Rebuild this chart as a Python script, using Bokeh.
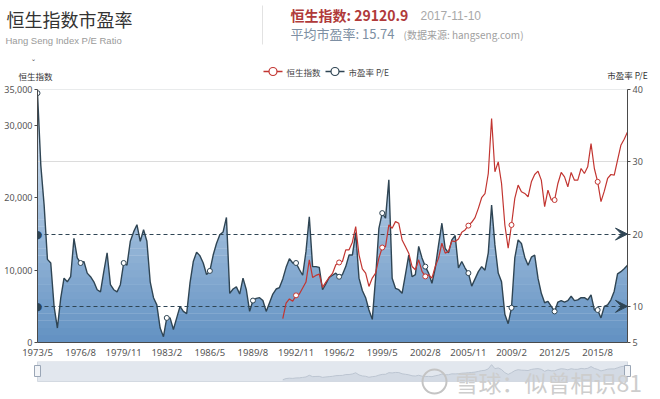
import numpy as np
from bokeh.plotting import figure
from bokeh.models import (Range1d, LinearAxis, FixedTicker, NumeralTickFormatter,
                          Label, Arrow, VeeHead)
from bokeh.layouts import column
from bokeh.embed import file_html
from bokeh.resources import INLINE

# ---------------- data (quarterly samples) ----------------
months_per_step = 3          # one value every 3 months, starting 1973/5
pe_ratio = [
    39.5, 29.5, 24.0, 16.5, 16.0, 10.0, 7.0, 11.1, 13.9, 13.4,
    14.1, 19.4, 16.7, 16.0, 16.2, 14.6, 14.1, 13.4, 12.3, 12.0,
    14.8, 17.4, 13.0, 12.3, 12.0, 13.0, 16.0, 15.7, 19.0, 20.3,
    21.3, 19.0, 20.6, 19.0, 13.4, 11.2, 10.2, 7.0, 5.8, 8.4,
    8.4, 6.8, 8.4, 10.0, 9.3, 9.0,
    13.2, 16.2, 17.5, 17.0, 16.0, 14.4, 14.9, 17.1, 18.7, 19.9,
    20.3, 22.3, 11.8, 12.4, 12.7, 11.7, 13.9, 12.3, 9.3, 10.8,
    11.1, 11.2, 10.8, 9.3, 10.5, 11.7, 12.4, 12.6, 13.8, 15.4,
    16.6, 16.0, 16.0, 15.1, 14.3, 17.6, 22.4, 15.5, 15.5, 15.4,
    12.3, 13.1, 14.0, 14.3, 14.6,
    14.1, 14.4, 15.5, 17.1, 17.1, 20.2, 13.9, 12.2, 11.2, 9.5,
    8.2, 13.9, 20.8, 22.9, 22.2, 27.5, 13.9, 12.5, 12.3, 11.8,
    14.4, 17.1, 14.1, 14.4, 18.3, 16.7, 15.5, 14.6, 13.2, 15.3,
    18.5, 21.5, 18.0, 17.4, 19.2, 19.8, 15.3, 16.2, 15.3, 14.6,
    12.8, 13.8, 14.8, 15.5, 15.0,
    17.4, 24.0, 18.5, 14.6, 13.4, 8.9, 7.6, 9.8, 16.7, 19.2,
    18.7, 16.8, 15.7, 16.8, 17.1, 13.9, 11.8, 10.5, 10.7, 10.0,
    9.3, 10.6, 10.8, 10.6, 10.8, 11.4, 10.8, 10.9, 11.2, 11.2,
    10.9, 11.6, 9.5, 9.5, 8.4, 10.0, 10.2, 10.9, 12.1, 14.5,
    14.8, 15.2, 15.7,
]
hsi_first_step = 74          # Hang Seng index series starts at step 74 (1991/11)
hang_seng_index = [
    3300, 5460, 6020, 5700, 6520, 6700, 7530, 8360, 11440, 9000,
    9280, 9460, 7620, 8360, 9000, 9550, 10750,
    11070, 11210, 12820, 12820, 13870, 16030, 12130, 10200, 9600, 7760,
    8910, 9600, 11670, 13140, 13270, 16260, 15800, 16720, 16490, 14190,
    13270, 12360, 10520, 10060, 11440, 9830, 9140, 9370, 8910, 10520,
    11670, 13730, 12360, 12590, 14060, 13960, 14330, 15250, 15570, 16170,
    16630, 17270, 18560, 20030, 20580,
    23380, 31000, 23610, 24990, 22000, 16260, 13040, 16260, 19930, 21770,
    20850, 20620, 20160, 22230, 23240, 23700, 22460, 18790, 21080, 19710,
    19710, 22000, 23520, 22920, 21540, 23520, 22460, 22460, 24070, 23380,
    24300, 27510, 24070, 22230, 19480, 20940, 22690, 23240, 23150, 25220,
    27280, 28110, 29120,
]
last_month = 534
tick_months = [0, 39, 78, 117, 156, 195, 234, 273, 312, 351, 390, 429, 468, 507]
tick_labels = ["1973/5", "1976/8", "1979/11", "1983/2", "1986/5", "1989/8",
               "1992/11", "1996/2", "1999/5", "2002/8", "2005/11", "2009/2",
               "2012/5", "2015/8"]
hsi_ticks = [0, 10000, 20000, 30000, 35000]
hsi_max = 35000
pe_ticks = [5, 10, 20, 30, 40]
pe_gridlines = [30, 40]
pe_marklines = [20, 10]
latest_hsi = "29120.9"
latest_date = "2017-11-10"
average_pe = "15.74"

# ---------------- styling ----------------
CJK = "Noto Sans CJK SC"
LAT = "Noto Sans"
RED = "#c23531"
NAVY = "#2f4554"
AX = "#4a4a4a"
W = 660
HEAD_H = 82
MAIN_H = 279
SLIDE_H = 37
FL, FR = 37, 627             # intended frame edges of the main plot (px)

pe_x = [i * months_per_step for i in range(len(pe_ratio))]
hsi_x = [(hsi_first_step + i) * months_per_step for i in range(len(hang_seng_index))]


def blank(height):
    f = figure(width=W, height=height, output_backend="svg", toolbar_location=None,
               x_range=Range1d(0, W), y_range=Range1d(height, 0), min_border=0,
               x_axis_location=None, y_axis_location=None, outline_line_color=None,
               background_fill_color="white", border_fill_color="white",
               frame_align=False)
    f.grid.visible = False
    return f


def add_text(fig, x, y, text, size, color, font=CJK, style="normal", align="left"):
    fig.add_layout(Label(x=x, y=y, text=text, text_font=font, text_font_size=size,
                         text_color=color, text_font_style=style,
                         text_baseline="middle", text_align=align))


# ---------------- header ----------------
hdr = blank(HEAD_H)
add_text(hdr, 6, 18, "恒生指数市盈率", "18px", "#333333")
add_text(hdr, 5, 40, "Hang Seng Index P/E Ratio", "9.5px", "#9a9a9a",
         font="Liberation Sans")
hdr.segment(x0=[262], y0=[5], x1=[262], y1=[44], line_color="#e2e2e2", line_width=1)
add_text(hdr, 290, 14, "恒生指数: " + latest_hsi, "14px", "#b03a3a", style="bold")
add_text(hdr, 420, 15, latest_date, "12px", "#a8a8a8", font="Liberation Sans")
add_text(hdr, 290, 33, "平均市盈率: " + average_pe, "13px", "#7d8fa3")
add_text(hdr, 403, 34, "(数据来源: hangseng.com)", "10px", "#a0a0a0")
# legend
for (x0, x1, col, name) in [(263, 282, RED, "恒生指数"), (325, 344, NAVY, "市盈率 P/E")]:
    hdr.segment(x0=[x0], y0=[71], x1=[x1], y1=[71], line_color=col, line_width=1.3)
    hdr.scatter(x=[(x0 + x1) / 2], y=[71], marker="circle", size=8,
                fill_color="white", line_color=col, line_width=1.2)
    add_text(hdr, x1 + 4, 71, name, "8.5px", "#444444")
# axis names
add_text(hdr, 35, 75, "恒生指数", "8.5px", "#333333", align="center")
add_text(hdr, 33, 63, "ˇ", "9px", "#555555", font="DejaVu Sans", align="center")
add_text(hdr, 627, 74, "市盈率 P/E", "8.5px", "#333333", align="center")

# ---------------- main chart ----------------
p = figure(width=W, height=MAIN_H, output_backend="svg", toolbar_location=None,
           x_range=Range1d(0, last_month), y_range=Range1d(0, hsi_max),
           min_border_left=FL, min_border_right=W - FR, min_border_top=7,
           min_border_bottom=18, background_fill_color="white",
           border_fill_color="white", outline_line_color=None, frame_align=False)
p.extra_y_ranges = {"pe": Range1d(5, 40)}

# gradient fill under P/E line: graded bands, then white mask above the line
top_rgb = np.array([226, 236, 246])
bot_rgb = np.array([98, 145, 194])
edges = np.arange(5.0, 41.0, 1.0)
band_colors = []
for lo, hi in zip(edges[:-1], edges[1:]):
    t = ((lo + hi) / 2 - 5) / 35
    c = bot_rgb * (1 - t) + top_rgb * t
    band_colors.append("#%02x%02x%02x" % tuple(int(round(v)) for v in c))
p.quad(left=0, right=last_month, bottom=list(edges[:-1]), top=list(edges[1:] + 0.05),
       fill_color=band_colors, line_color=None, y_range_name="pe")
p.varea(x=pe_x, y1=pe_ratio, y2=40, fill_color="white", y_range_name="pe")

p.hspan(y=pe_gridlines, line_color="#dcdcdc", line_width=1, y_range_name="pe")
p.hspan(y=pe_marklines, line_color=NAVY, line_width=1, line_dash="4 3",
        y_range_name="pe")

pe_line = p.line(pe_x, pe_ratio, line_color=NAVY, line_width=1.4, y_range_name="pe")
pe_idx = [i for i, m in enumerate(pe_x) if m in tick_months]
p.scatter([pe_x[i] for i in pe_idx], [pe_ratio[i] for i in pe_idx],
          marker="circle", size=5, fill_color="white", line_color=NAVY,
          line_width=1, y_range_name="pe")

hsi_line = p.line(hsi_x, hang_seng_index, line_color=RED, line_width=1.2)
hsi_idx = [i for i, m in enumerate(hsi_x) if m in tick_months]
p.scatter([hsi_x[i] for i in hsi_idx], [hang_seng_index[i] for i in hsi_idx],
          marker="circle", size=5, fill_color="white", line_color=RED, line_width=1)

# markline end symbols
for v in pe_marklines:
    p.add_layout(Label(x=0, y=v, y_range_name="pe", text="●", text_align="center",
                       text_baseline="middle", text_font="DejaVu Sans",
                       text_font_size="11px", text_color=NAVY))
    p.add_layout(Arrow(x_start=last_month - 12, y_start=v, x_end=last_month, y_end=v,
                       y_range_name="pe", line_alpha=0,
                       end=VeeHead(size=12, fill_color=NAVY, line_color=NAVY)))

# axes
p.xgrid.visible = False
p.ygrid.visible = False
p.xaxis.ticker = FixedTicker(ticks=tick_months)
p.xaxis.major_label_overrides = {m: l for m, l in zip(tick_months, tick_labels)}
p.yaxis.ticker = FixedTicker(ticks=hsi_ticks)
p.yaxis.formatter = NumeralTickFormatter(format="0,0")
pe_axis = LinearAxis(y_range_name="pe", ticker=FixedTicker(ticks=pe_ticks))
p.add_layout(pe_axis, "right")
for ax in [p.xaxis[0], p.yaxis[0], pe_axis]:
    ax.axis_line_color = AX
    ax.major_tick_line_color = AX
    ax.minor_tick_line_color = None
    ax.major_tick_out = 3
    ax.major_tick_in = 0
    ax.major_label_text_font = LAT
    ax.major_label_text_font_size = "9px"
    ax.major_label_text_color = "#555555"
    ax.major_label_standoff = 2
p.xaxis.major_tick_out = 0
p.xaxis.major_label_standoff = 3
p.xaxis.major_label_text_font_size = "9.5px"

# ---------------- data-zoom strip + watermark ----------------
sld = blank(SLIDE_H)
band_top, band_bot = 0, 20
px_per_month = (FR - FL) / last_month
sld.extra_x_ranges = {"m": Range1d(-FL / px_per_month, (W - FL) / px_per_month)}
span_v = hsi_max * SLIDE_H / (band_bot - 1 - band_top)
lo_v = -(SLIDE_H - band_bot) / SLIDE_H * span_v
sld.extra_y_ranges = {"s": Range1d(lo_v, lo_v + span_v)}
sld.quad(left=[FL], right=[FR], top=[band_top], bottom=[band_bot],
         fill_color="#e2e7ee", line_color="#d3d9e1")
sld.varea(x=hsi_x, y1=0, y2=hang_seng_index, x_range_name="m", y_range_name="s",
          fill_color="#d3dae4")
sld.line(hsi_x, hang_seng_index, x_range_name="m", y_range_name="s",
         line_color="#bcc5d1", line_width=1)
for hx in [FL, FR]:
    sld.quad(left=[hx - 3], right=[hx + 3], top=[4], bottom=[15],
             fill_color="#f2f4f7", line_color="#9aa6b6", line_width=1)
sld.scatter(x=[434], y=[20], marker="circle", size=24, fill_color=None,
            line_color="#c4c4c4", line_width=2)
add_text(sld, 455, 20, "雪球：似曾相识81", "23px", "#cdcdcd")

layout = column(hdr, p, sld, spacing=0)
open("out.html", "w").write(file_html(layout, INLINE))
